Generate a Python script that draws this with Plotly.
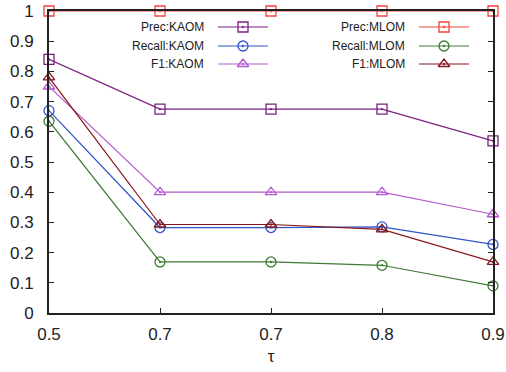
import plotly.graph_objects as go

tau_labels = ["0.5", "0.7", "0.7", "0.8", "0.9"]
prec_kaom = [0.84, 0.675, 0.675, 0.675, 0.57]
recall_kaom = [0.67, 0.283, 0.283, 0.285, 0.227]
f1_kaom = [0.75, 0.40, 0.40, 0.40, 0.327]
prec_mlom = [1.0, 1.0, 1.0, 1.0, 1.0]
recall_mlom = [0.635, 0.169, 0.169, 0.158, 0.09]
f1_mlom = [0.78, 0.293, 0.293, 0.277, 0.169]

names = ["Prec:KAOM", "Recall:KAOM", "F1:KAOM", "Prec:MLOM", "Recall:MLOM", "F1:MLOM"]
series = [prec_kaom, recall_kaom, f1_kaom, prec_mlom, recall_mlom, f1_mlom]
colors = ["#7a1f7f", "#2f55c8", "#b45ad0", "#f0443c", "#3f7a35", "#86161b"]
symbols = ["square-open-dot", "circle-open-dot", "triangle-up-open-dot",
           "square-open-dot", "circle-open-dot", "triangle-up-open-dot"]
sizes = [10, 10, 10, 10, 10, 10]

x = list(range(len(tau_labels)))
fig = go.Figure()
for n, s, c, sym, sz in zip(names, series, colors, symbols, sizes):
    fig.add_trace(go.Scatter(x=x, y=s, name=n, mode="lines+markers",
                             line=dict(color=c, width=1.2),
                             marker=dict(symbol=sym, size=sz, color=c, line=dict(color=c, width=1.3)),
                             cliponaxis=False, showlegend=False))

# manual legend (text left of sample, like gnuplot)
L, R, T, B = 49, 493, 11, 313
def px(v): return (v - L) / (R - L)
def py(v): return (B - v) / (B - T)
cols = [(206, 218, 268), (407, 419, 469)]
rows = [27, 46, 64]
for i, n in enumerate(names):
    tx, x0, x1 = cols[i // 3]
    yy = rows[i % 3]
    fig.add_annotation(x=px(tx), y=py(yy), xref="paper", yref="paper", text=n,
                       showarrow=False, xanchor="right", yanchor="middle",
                       font=dict(size=12, color="#222"))
    fig.add_shape(type="line", xref="paper", yref="paper", x0=px(x0), x1=px(x1),
                  y0=py(yy), y1=py(yy), line=dict(color=colors[i], width=1.2))
    fig.add_trace(go.Scatter(x=[px((x0 + x1) / 2)], y=[py(yy)], xaxis="x2", yaxis="y2",
                             mode="markers", showlegend=False, hoverinfo="skip", cliponaxis=False,
                             marker=dict(symbol=symbols[i], size=sizes[i], color=colors[i],
                                         line=dict(color=colors[i], width=1.3))))

fig.update_layout(
    width=506, height=372, paper_bgcolor="white", plot_bgcolor="white",
    margin=dict(l=L, r=506 - R, t=T, b=372 - B, autoexpand=False),
    font=dict(family="Liberation Sans, Arial, sans-serif", color="#222"),
    showlegend=False,
    xaxis=dict(range=[0, 4], tickvals=x, ticktext=tau_labels, ticks="inside", ticklen=5,
               tickcolor="#222", showline=True, linecolor="#222", linewidth=2, mirror=True,
               showgrid=False, zeroline=False, tickfont=dict(size=17), automargin=False,
               ticklabelstandoff=5,
               title=dict(text="τ", font=dict(size=17), standoff=7)),
    yaxis=dict(range=[0, 1], dtick=0.1, ticks="inside", ticklen=5, tickcolor="#222",
               showline=True, linecolor="#222", linewidth=2, mirror="ticks",
               showgrid=False, zeroline=False, tickfont=dict(size=17), automargin=False,
               ticklabelstandoff=10),
    xaxis2=dict(range=[0, 1], overlaying="x", visible=False, fixedrange=True),
    yaxis2=dict(range=[0, 1], overlaying="y", visible=False, fixedrange=True),
)
fig.write_html("out.html")
